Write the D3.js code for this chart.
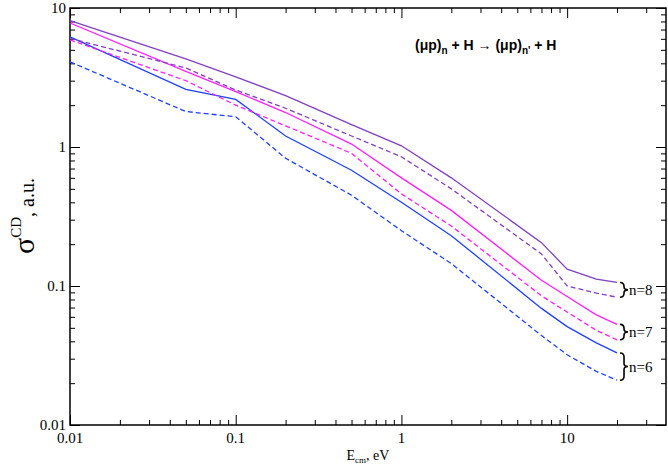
<!DOCTYPE html><html><head><script src="https://cdn.jsdelivr.net/npm/d3@7"></script>
<style>body{margin:0;background:#fff}</style></head><body><svg id="c" width="668" height="467"></svg>
<script>
const energies=[0.01,0.05,0.1,0.2,0.5,1,2,7,10,15,20];
const n6solid=[6.2,2.6,2.2,1.2,0.68,0.40,0.23,0.069,0.051,0.039,0.033];
const n6dash=[4.1,1.8,1.65,0.83,0.45,0.25,0.145,0.044,0.032,0.0243,0.021];
const n7solid=[7.8,3.5,2.5,1.77,1.05,0.6,0.35,0.11,0.084,0.062,0.053];
const n7dash=[5.9,3.0,2.0,1.42,0.9,0.46,0.27,0.085,0.065,0.048,0.041];
const n8solid=[8.1,4.3,3.2,2.34,1.45,1.02,0.6,0.205,0.132,0.112,0.106];
const n8dash=[6.05,3.7,2.57,1.9,1.2,0.85,0.5,0.17,0.1,0.089,0.083];
const xTicks=[0.01,0.1,1,10], yTicks=[0.01,0.1,1,10];
const series=[
 {v:n6solid,c:"#2040ff",d:null},{v:n6dash,c:"#2040ff",d:"5,3"},
 {v:n7solid,c:"#ff20ff",d:null},{v:n7dash,c:"#ff20ff",d:"5,3"},
 {v:n8solid,c:"#8040c0",d:null},{v:n8dash,c:"#8040c0",d:"5,3"}];
const svg=d3.select("#c");
const L=70,R=666,T=8,B=425;
const x=d3.scaleLog().domain([0.01,39.5]).range([L,R]);
const y=d3.scaleLog().domain([0.01,10]).range([B,T]);
const minorX=[],minorY=[];
[0.01,0.1,1,10].forEach(d=>{for(let k=2;k<10;k++){if(d*k<=39.5)minorX.push(d*k);minorY.push(d*k);}});
const g=svg.append("g");
function ax(axisFn,scale,vals,size,tr){
 const a=g.append("g").attr("transform",tr).call(axisFn(scale).tickValues(vals).tickSize(size).tickFormat(""));
 a.select(".domain").remove();a.selectAll("line").attr("stroke","#000");return a;}
const f=d=>d>=1?d3.format("d")(d):String(d);
ax(d3.axisTop,x,xTicks,10,`translate(0,${B})`);
ax(d3.axisTop,x,minorX,5,`translate(0,${B})`);
ax(d3.axisBottom,x,xTicks,10,`translate(0,${T})`);
ax(d3.axisBottom,x,minorX,5,`translate(0,${T})`);
ax(d3.axisRight,y,yTicks,10,`translate(${L},0)`);
ax(d3.axisRight,y,minorY,5,`translate(${L},0)`);
ax(d3.axisLeft,y,yTicks,10,`translate(${R},0)`);
ax(d3.axisLeft,y,minorY,5,`translate(${R},0)`);
xTicks.forEach(t=>g.append("text").attr("x",x(t)).attr("y",B+18).attr("text-anchor","middle").attr("font-family","Liberation Serif").attr("font-size",15).text(f(t)));
yTicks.forEach(t=>g.append("text").attr("x",L-4).attr("y",y(t)+5).attr("text-anchor","end").attr("font-family","Liberation Serif").attr("font-size",15).text(f(t)));
g.append("rect").attr("x",L).attr("y",T).attr("width",R-L).attr("height",B-T).attr("fill","none").attr("stroke","#000").attr("stroke-width",1.5);
const line=d3.line().x(d=>x(d[0])).y(d=>y(d[1]));
series.forEach(s=>g.append("path").attr("d",line(energies.map((e,i)=>[e,s.v[i]]))).attr("fill","none").attr("stroke",s.c).attr("stroke-width",1.3).attr("stroke-dasharray",s.d));
const labels=[["n=8",n8solid,n8dash],["n=7",n7solid,n7dash],["n=6",n6solid,n6dash]];
labels.forEach(([t,a1,a2])=>{const y1=y(a1[a1.length-1]),y2=y(a2[a2.length-1]),ym=(y1+y2)/2,bx=x(20)+3;
 g.append("path").attr("d",`M${bx},${y1} Q${bx+4},${y1} ${bx+4},${y1+4} L${bx+4},${ym-3} Q${bx+4},${ym} ${bx+8},${ym} Q${bx+4},${ym} ${bx+4},${ym+3} L${bx+4},${y2-4} Q${bx+4},${y2} ${bx},${y2}`).attr("fill","none").attr("stroke","#000").attr("stroke-width",1.6);
 g.append("text").attr("x",bx+9).attr("y",ym+5).attr("font-family","Liberation Serif").attr("font-size",15).text(t);});
const tt=g.append("text").attr("x",415).attr("y",50).attr("font-family","Liberation Sans").attr("font-weight","bold").attr("font-size",14);
tt.append("tspan").text("(μp)");tt.append("tspan").attr("font-size",10).attr("dy",4).text("n");
tt.append("tspan").attr("dy",-4).text(" + H  ");tt.append("tspan").attr("font-weight","normal").text("→");
tt.append("tspan").text("  (μp)");tt.append("tspan").attr("font-size",10).attr("dy",4).text("n'");
tt.append("tspan").attr("dy",-4).text(" + H");
const xl=g.append("text").attr("x",368).attr("y",460).attr("text-anchor","middle").attr("font-family","Liberation Serif").attr("font-size",14);
xl.append("tspan").text("E");xl.append("tspan").attr("font-size",9).attr("dy",3).text("cm");xl.append("tspan").attr("dy",-3).text(", eV");
const yl=g.append("text").attr("transform","translate(34,216) rotate(-90)").attr("text-anchor","middle").attr("font-family","Liberation Serif").attr("font-size",20);
yl.append("tspan").attr("font-size",30).text("σ");yl.append("tspan").attr("font-size",15).attr("dy",-13).text("CD");yl.append("tspan").attr("dy",13).text(", a.u.");
</script></body></html>
